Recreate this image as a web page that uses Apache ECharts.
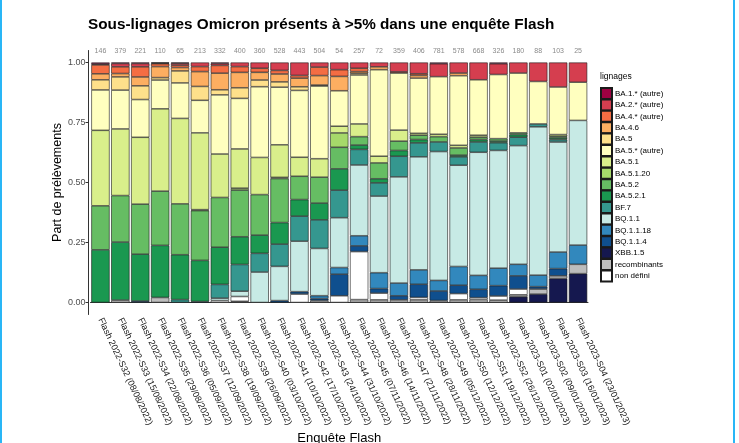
<!DOCTYPE html>
<html>
<head>
<meta charset="utf-8">
<script src="https://cdn.jsdelivr.net/npm/echarts@6/dist/echarts.min.js"></script>
<style>
html,body{margin:0;padding:0;background:#fff;}
#frame{position:absolute;left:0;top:0;width:735px;height:443px;box-sizing:border-box;border-left:2px solid #29b6f6;border-right:2px solid #29b6f6;}
#chart{position:absolute;left:0;top:0;width:739px;height:443px;}
</style>
</head>
<body>
<div id="chart"></div>
<div id="frame"></div>
<script>
// ---------- data ----------
const categories = [
  "Flash 2022-S32 (08/08/2022)","Flash 2022-S33 (15/08/2022)","Flash 2022-S34 (22/08/2022)",
  "Flash 2022-S35 (29/08/2022)","Flash 2022-S36 (05/09/2022)","Flash 2022-S37 (12/09/2022)",
  "Flash 2022-S38 (19/09/2022)","Flash 2022-S39 (26/09/2022)","Flash 2022-S40 (03/10/2022)",
  "Flash 2022-S41 (10/10/2022)","Flash 2022-S42 (17/10/2022)","Flash 2022-S43 (24/10/2022)",
  "Flash 2022-S44 (31/10/2022)","Flash 2022-S45 (07/11/2022)","Flash 2022-S46 (14/11/2022)",
  "Flash 2022-S47 (21/11/2022)","Flash 2022-S48 (28/11/2022)","Flash 2022-S49 (05/12/2022)",
  "Flash 2022-S50 (12/12/2022)","Flash 2022-S51 (19/12/2022)","Flash 2022-S52 (26/12/2022)",
  "Flash 2023-S01 (02/01/2023)","Flash 2023-S02 (09/01/2023)","Flash 2023-S03 (16/01/2023)",
  "Flash 2023-S04 (23/01/2023)"
];
const counts = [146,379,221,110,65,213,332,400,360,528,443,504,54,257,72,359,406,781,578,668,326,180,88,103,25];
const yTicks = [0, 0.25, 0.5, 0.75, 1];

// shares per lineage, one value per survey (bottom of stack first)
const XBB_1_5      = [0,0,0,0,0,0,0,0,0,0,0,0,0,0,0,0,0,0,0,0,0,.024,.035,.10,.12];
const recombinants = [0,.01,0,.021,0,0,0,.005,0,0,0,.008,0,.012,.011,.011,.011,.008,.011,.012,.01,.008,.021,.011,.039];
const non_defini   = [0,0,0,0,0,0,.008,.02,0,0,.035,0,.028,.20,.028,0,.01,0,.026,.008,.017,.024,0,0,0];
const BQ_1_1_4     = [0,0,.006,0,0,.004,0,0,0,.008,.01,.008,.09,.024,.019,.017,.055,.04,.035,.035,.043,.055,.01,.03,0];
const BQ_1_1_18    = [0,0,0,0,0,0,0,0,0,0,0,.012,.028,.042,.066,.053,.06,.044,.078,.058,.073,.048,.048,.069,.08];
const BQ_1_1       = [0,0,0,0,0,0,.01,.022,.127,.143,.21,.195,.208,.295,.319,.443,.471,.537,.422,.513,.49,.494,.618,.458,.519];
const BF_7         = [0,0,0,0,.012,0,.057,.111,.078,.093,.104,.118,.115,.065,.055,.086,.058,.04,.035,.043,.032,.035,.012,.01,0];
const BA_5_2_1     = [.219,.242,.195,.217,.187,.172,.154,.115,.076,.09,.069,.069,.089,.018,.017,.024,.014,0,.007,.01,.007,.011,0,.007,0];
const BA_5_2       = [.183,.194,.208,.226,.212,.208,.206,.194,.169,.184,.097,.107,.09,.035,.066,.039,.018,.022,.03,.01,.01,.007,0,.007,0];
const BA_5_1_20    = [0,0,0,0,0,.004,0,.008,0,.005,0,0,.06,0,0,0,0,0,0,0,0,0,0,0,0];
const BA_5_1       = [.314,.278,.278,.343,.356,.321,.18,.163,.155,.136,.079,.076,.028,.053,.028,.046,.008,.01,.011,.008,0,0,0,.007,0];
const BA_5_autre   = [.168,.162,.157,.12,.148,.136,.245,.21,.295,.241,.278,.30,.148,.204,.36,.238,.23,.24,.29,.231,.267,.249,.177,.198,.159];
const BA_5         = [.042,.055,.057,.01,.05,.058,.021,.044,.028,.022,.015,.004,0,.007,0,0,0,0,0,0,0,0,0,0,0];
const BA_4_6       = [.025,.014,.037,.046,.014,.062,.069,.064,.032,.033,.036,.039,.06,.007,.012,0,.011,0,.011,0,0,0,0,0,0];
const BA_4_autre   = [.037,.028,.042,.012,.01,.021,.032,.024,.017,.015,.011,.035,.028,.014,0,.005,.007,0,0,0,0,0,0,0,0];
const BA_2_autre   = [.004,.014,.014,.003,.008,.017,.008,.017,.024,.033,.054,.019,.03,.024,.018,.039,.047,.054,.044,.072,.045,.044,.079,.102,.082];
const BA_1_autre   = [.006,.004,.004,.002,.003,0,.004,0,0,0,0,0,0,0,0,0,0,.005,0,0,.005,0,0,0,0];

// stacking order, bottom to top
const lineages = [
  ["XBB.1.5", XBB_1_5, "#15184f"],
  ["recombinants", recombinants, "#bdbdbd"],
  ["non défini", non_defini, "#ffffff"],
  ["BQ.1.1.4", BQ_1_1_4, "#0f4f8e"],
  ["BQ.1.1.18", BQ_1_1_18, "#3288bd"],
  ["BQ.1.1", BQ_1_1, "#c7eae5"],
  ["BF.7", BF_7, "#35978f"],
  ["BA.5.2.1", BA_5_2_1, "#1a9850"],
  ["BA.5.2", BA_5_2, "#66bd63"],
  ["BA.5.1.20", BA_5_1_20, "#a6d96a"],
  ["BA.5.1", BA_5_1, "#d9ef8b"],
  ["BA.5.* (autre)", BA_5_autre, "#ffffbf"],
  ["BA.5", BA_5, "#fee08b"],
  ["BA.4.6", BA_4_6, "#fdae61"],
  ["BA.4.* (autre)", BA_4_autre, "#f46d43"],
  ["BA.2.* (autre)", BA_2_autre, "#d53e4f"],
  ["BA.1.* (autre)", BA_1_autre, "#9e0142"]
];
// legend order, top to bottom
const legendOrder = ["BA.1.* (autre)","BA.2.* (autre)","BA.4.* (autre)","BA.4.6","BA.5","BA.5.* (autre)",
  "BA.5.1","BA.5.1.20","BA.5.2","BA.5.2.1","BF.7","BQ.1.1","BQ.1.1.18","BQ.1.1.4","XBB.1.5","recombinants","non défini"];

// per-survey totals used to express each bar as a share of 1
const totals = categories.map((_, i) => lineages.reduce((s, l) => s + l[1][i], 0));

const FONT = '"Liberation Sans", Arial, Helvetica, sans-serif';

const series = lineages.map(([name, vals, color]) => ({
  name: name,
  type: 'bar',
  stack: 'all',
  barWidth: '92%',
  itemStyle: { color: color, borderColor: '#1a1a1a', borderWidth: 0.6 },
  emphasis: { disabled: true },
  data: vals.map((v, i) => v > 0 ? v / totals[i] : '-')
}));

const chart = echarts.init(document.getElementById('chart'), null, { renderer: 'canvas' });
chart.setOption({
  animation: false,
  textStyle: { fontFamily: FONT },
  title: [
    { text: 'Sous-lignages Omicron présents à >5% dans une enquête Flash', left: 83, top: 12,
      textStyle: { fontFamily: FONT, fontSize: 15.3, fontWeight: 'bold', color: '#000' } },
    { text: 'lignages', left: 595, top: 67,
      textStyle: { fontFamily: FONT, fontSize: 8.5, fontWeight: 'normal', color: '#000' } }
  ],
  legend: {
    orient: 'vertical', left: 595, top: 82,
    itemWidth: 11, itemHeight: 11, itemGap: -1.6,
    icon: 'rect',
    data: legendOrder,
    textStyle: { fontFamily: FONT, fontSize: 8, color: '#000', lineHeight: 11, padding: [0,0,0,-2] }
  },
  grid: { left: 90.5, right: 151, top: 50.5, bottom: 128.5, containLabel: false, outerBoundsMode: 'none' },
  xAxis: [
    {
      type: 'category', data: categories, position: 'bottom',
      axisLine: { lineStyle: { color: '#333', width: 1 } },
      axisTick: { alignWithLabel: true, length: 3, lineStyle: { color: '#333' } },
      axisLabel: { rotate: -65, fontSize: 9, color: '#1a1a1a', margin: 4, fontFamily: FONT, interval: 0 },
      name: 'Enquête Flash', nameLocation: 'middle', nameGap: 117, nameMoveOverlap: false,
      nameTextStyle: { fontSize: 13, color: '#000', fontFamily: FONT }
    },
    {
      type: 'category', data: counts, position: 'top',
      axisLine: { show: false }, axisTick: { show: false },
      axisLabel: { fontSize: 7, color: '#8a8a8a', margin: -4, interval: 0, fontFamily: FONT }
    }
  ],
  yAxis: {
    type: 'value', min: -0.05, max: 1.05, offset: 2,
    splitLine: { show: false },
    axisLine: { show: true, lineStyle: { color: '#333', width: 1 } },
    axisTick: { show: true, length: 3, customValues: yTicks, lineStyle: { color: '#333' } },
    axisLabel: { customValues: yTicks, formatter: v => v.toFixed(2), fontSize: 9, color: '#4d4d4d', margin: 3, fontFamily: FONT },
    name: 'Part de prélèvements', nameLocation: 'middle', nameGap: 24, nameMoveOverlap: false,
    nameTextStyle: { fontSize: 12.5, color: '#000', fontFamily: FONT }
  },
  series: series
});
</script>
</body>
</html>
